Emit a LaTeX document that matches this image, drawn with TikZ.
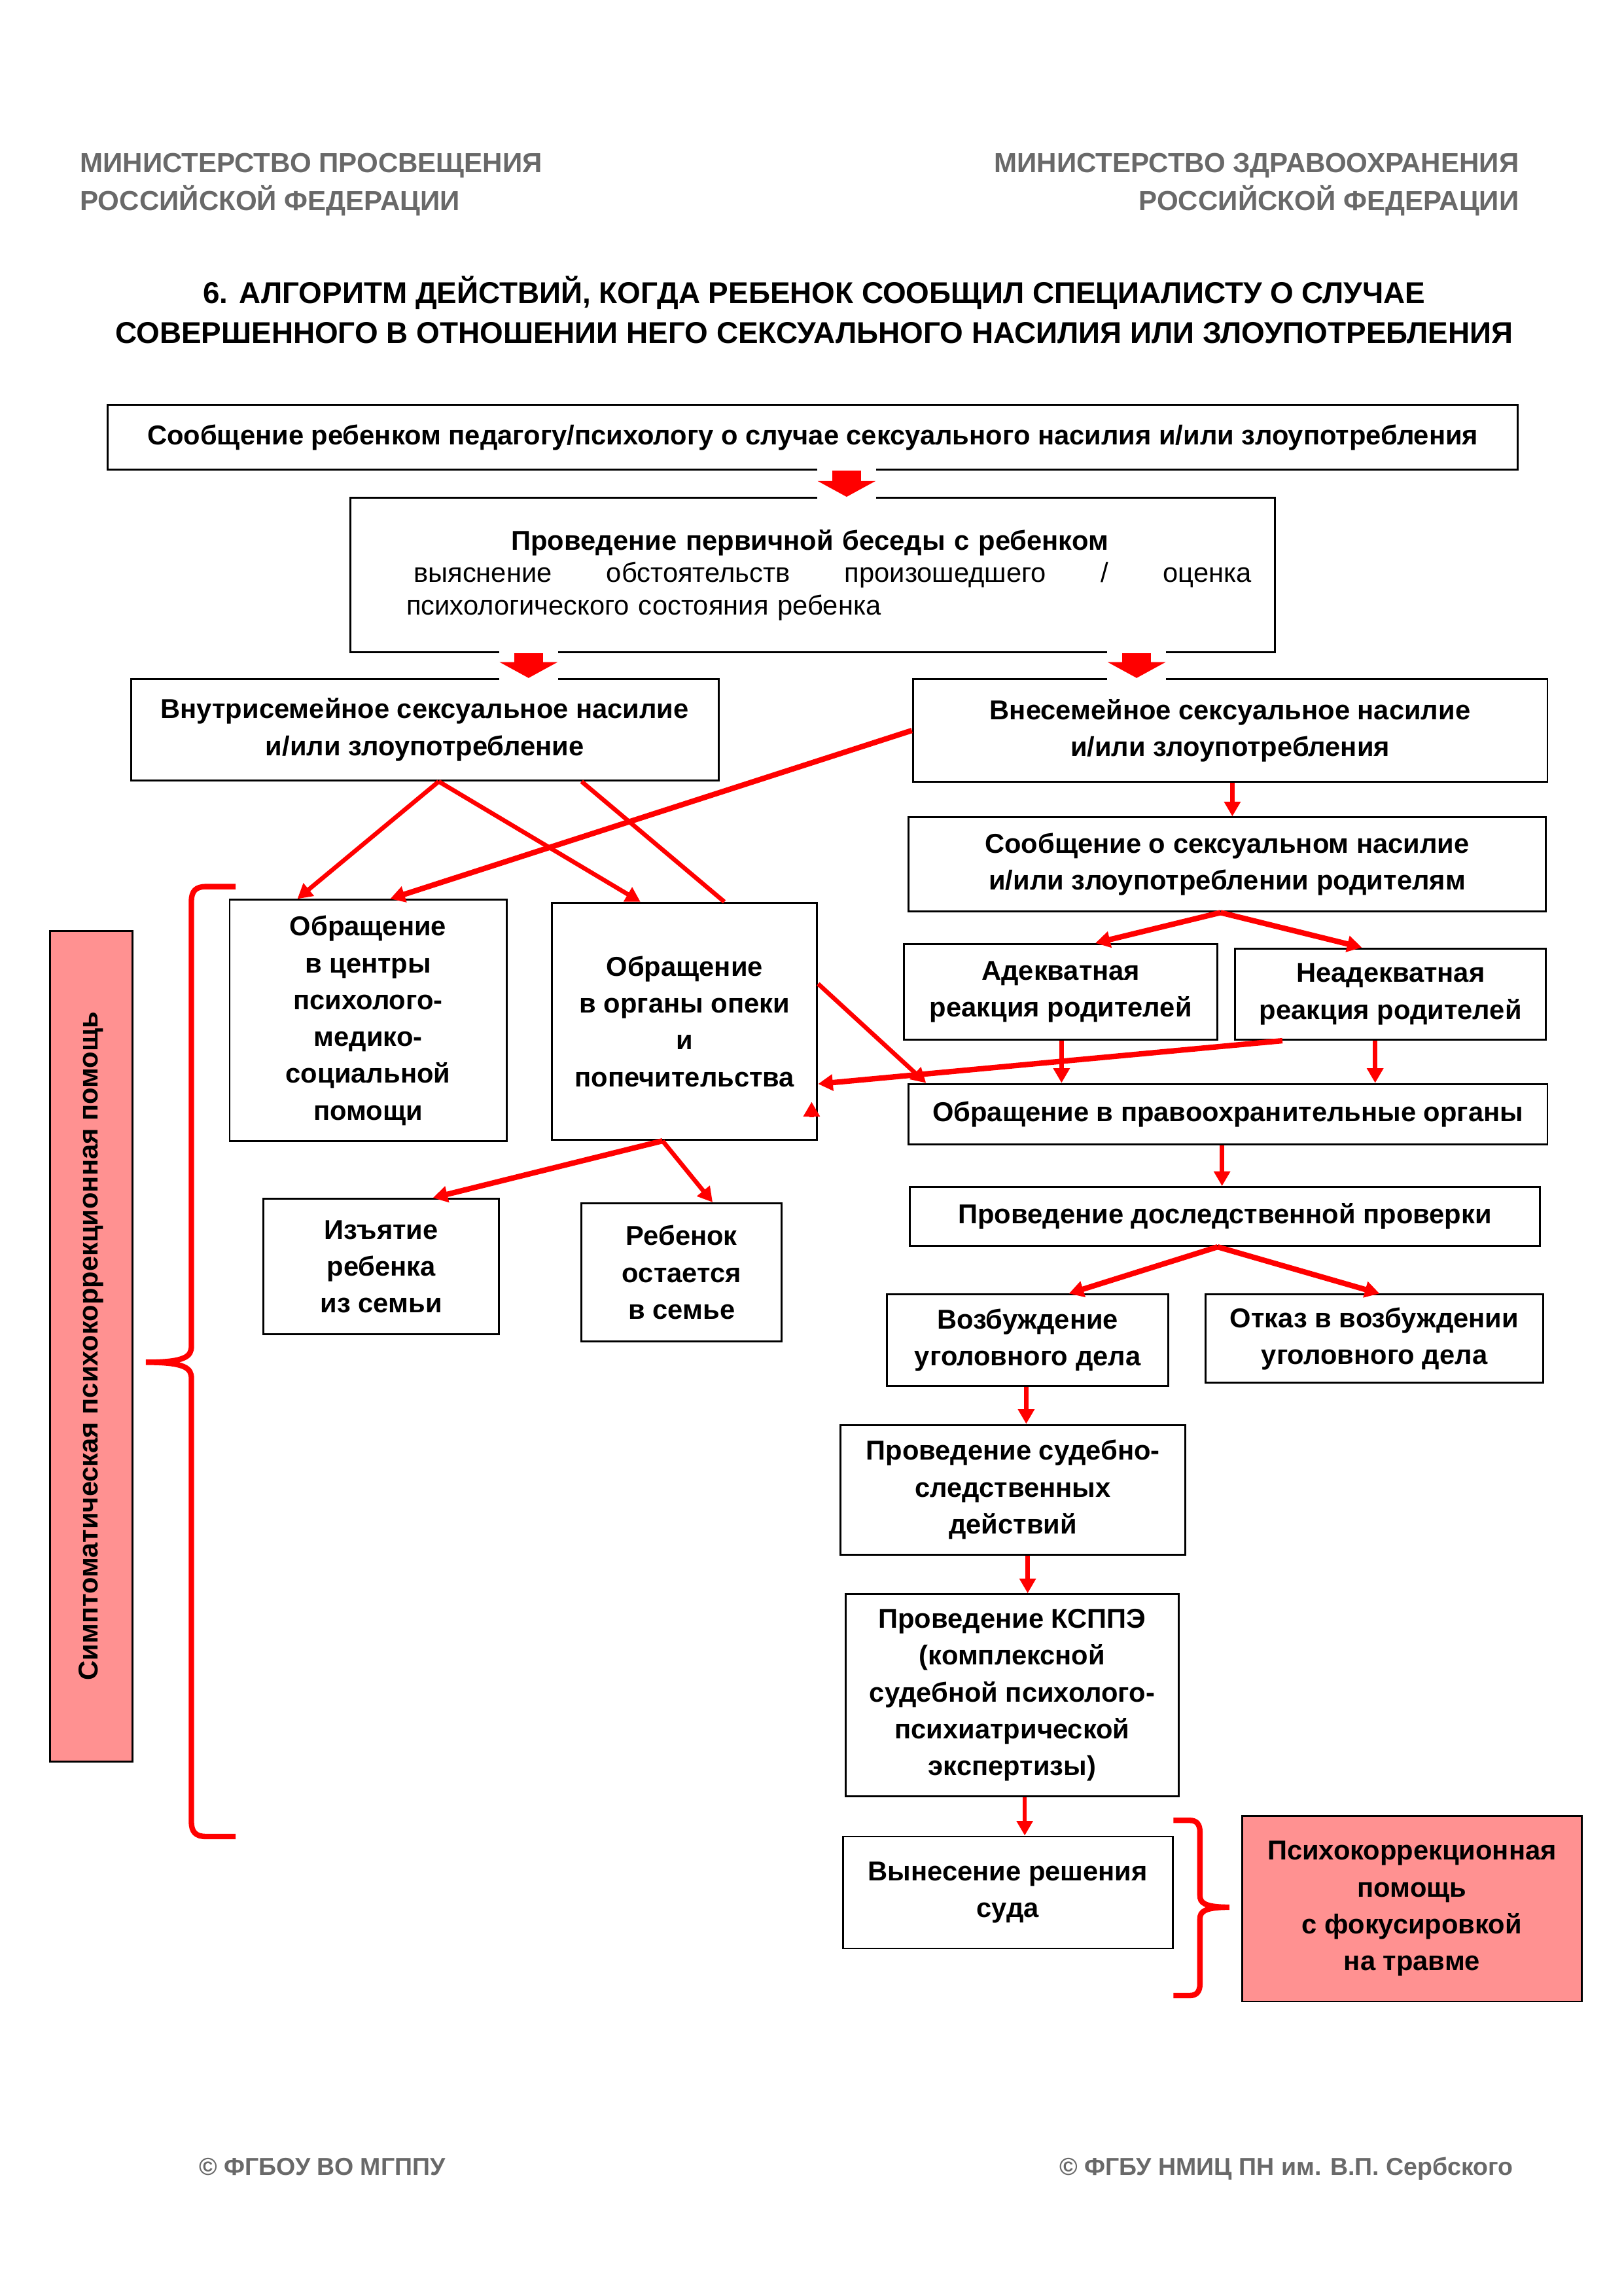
\documentclass[tikz,border=0pt]{standalone}
\usepackage{fontspec}
\setmainfont{Liberation Sans}
\usetikzlibrary{arrows.meta}
\definecolor{headgray}{RGB}{105,105,105}
\definecolor{pinkfill}{RGB}{255,145,145}
\newcommand{\px}{0.5397pt}
\tikzset{%
    box/.style={draw, line width=0.7pt, fill=white, align=center, inner sep=0pt,
        font=\bfseries\fontsize{10}{13.5}\selectfont},
    pinkbox/.style={box, fill=pinkfill},
    sz/.style 2 args={minimum width=#1*\px, minimum height=#2*\px},
    link/.style={draw=red, line width=1.6pt, -{Triangle[length=5.4pt,width=5.8pt]}},
    heavy/.style={link, line width=2pt},
    bare/.style={draw=red, line width=1.6pt},
    fat/.style={draw=red, line width=10.5pt, -{Triangle[length=5.8pt,width=21pt]}},
    mask/.style={fill=white},
    brace/.style={draw=red, line width=2pt},
    head/.style={text=headgray, inner sep=0pt, font=\bfseries\fontsize{10.1}{14}\selectfont},
    caption/.style={inner sep=0pt, font=\bfseries\fontsize{11}{14.6}\selectfont},
    foot/.style={text=headgray, inner sep=0pt, font=\bfseries\fontsize{9}{10}\selectfont}
}
\begin{document}
\begin{tikzpicture}[x=\px, y=-\px]
    \useasboundingbox (0,0) rectangle (1103,1559);
    \node[head, anchor=base west] (edu1) at (54,117) {МИНИСТЕРСТВО ПРОСВЕЩЕНИЯ};
    \node[head, anchor=base west] (edu2) at (54,143) {РОССИЙСКОЙ ФЕДЕРАЦИИ};
    \node[head, anchor=base east] (med1) at (1032,117) {МИНИСТЕРСТВО ЗДРАВООХРАНЕНИЯ};
    \node[head, anchor=base east] (med2) at (1032,143) {РОССИЙСКОЙ ФЕДЕРАЦИИ};
    \node[caption, anchor=base] (title1) at (553,206) {6. АЛГОРИТМ ДЕЙСТВИЙ, КОГДА РЕБЕНОК СООБЩИЛ СПЕЦИАЛИСТУ О СЛУЧАЕ};
    \node[caption, anchor=base] (title2) at (553,233) {СОВЕРШЕННОГО В ОТНОШЕНИИ НЕГО СЕКСУАЛЬНОГО НАСИЛИЯ ИЛИ ЗЛОУПОТРЕБЛЕНИЯ};
    \node[foot, anchor=base west] (footl) at (135,1477) {© ФГБОУ ВО МГППУ};
    \node[foot, anchor=base east] (footr) at (1028,1477) {© ФГБУ НМИЦ ПН им. В.П. Сербского};

    \node[box, sz={958}{44}] (msg) at (552,297) {Сообщение ребенком педагогу/психологу о случае сексуального насилия и/или злоупотребления};
    \node[box, sz={628}{105}] (talk) at (552,390.5) {};
    \node[inner sep=0pt, text width=574*\px, align=left, font=\fontsize{10}{11.9}\selectfont] (talktext) at ([xshift=11*\px]talk.center)
        {\makebox[\linewidth][c]{\hspace*{-14pt}\bfseries Проведение первичной беседы с ребенком}\\
         \hspace*{2.7pt}выяснение\hfill обстоятельств\hfill произошедшего\hfill /\hfill оценка\\
         психологического состояния ребенка};
    \node[box, sz={399}{69}] (intra) at (288.5,495.5) {Внутрисемейное сексуальное насилие\\и/или злоупотребление};
    \node[box, sz={431}{70}] (extra) at (835.5,496) {Внесемейное сексуальное насилие\\и/или злоупотребления};
    \node[box, sz={433}{64}] (parents) at (833.5,587) {Сообщение о сексуальном насилие\\и/или злоупотреблении родителям};
    \node[box, sz={188}{164}] (centres) at (250,693) {Обращение\\в центры\\психолого-\\медико-\\социальной\\помощи};
    \node[box, sz={180}{161}] (guard) at (465,693.5) {Обращение\\в органы опеки\\и\\попечительства};
    \node[box, sz={213}{65}] (adeq) at (720.5,673.5) {Адекватная\\реакция родителей};
    \node[box, sz={211}{62}] (inadeq) at (944.5,675) {Неадекватная\\реакция родителей};
    \node[box, sz={434}{41}] (police) at (834,756.5) {Обращение в правоохранительные органы};
    \node[box, sz={428}{40}] (check) at (832,826) {Проведение доследственной проверки};
    \node[box, sz={160}{92}] (removal) at (259,860) {Изъятие\\ребенка\\из семьи};
    \node[box, sz={136}{94}] (stays) at (463,864) {Ребенок\\остается\\в семье};
    \node[box, sz={191}{62}] (case) at (698,910) {Возбуждение\\уголовного дела};
    \node[box, sz={229}{60}] (refusal) at (933.5,909) {Отказ в возбуждении\\уголовного дела};
    \node[box, sz={234}{88}] (inquiry) at (688,1011.5) {Проведение судебно-\\следственных\\действий};
    \node[box, sz={226}{137}] (expert) at (687.5,1151) {Проведение КСППЭ\\(комплексной\\судебной психолого-\\психиатрической\\экспертизы)};
    \node[box, sz={224}{76}] (verdict) at (684.5,1285) {Вынесение решения\\суда};
    \node[pinkbox, sz={231}{126}] (trauma) at (959,1296) {Психокоррекционная\\помощь\\с фокусировкой\\на травме};
    \node[pinkbox, rotate=90, sz={564}{56}] (symptom) at (62,914) {Симптоматическая психокоррекционная помощь};

    \fill[mask] (555,317) rectangle (595,340);
    \fill[mask] (339,441) rectangle (379,463);
    \fill[mask] (752,441) rectangle (792,463);
    \draw[fat] (msg.south -| 575,0) -- (talk.north -| 575,0);
    \draw[fat] (talk.south -| 359,0) -- (intra.north -| 359,0);
    \draw[fat] (talk.south -| 772,0) -- (extra.north -| 772,0);

    \draw[link] (intra.south -| 298,0) -- (centres.north -| 202,0);
    \draw[link] (intra.south -| 298,0) -- (guard.north -| 435,0);
    \draw[bare] (intra.south -| 395,0) -- (guard.north -| 492,0);
    \draw[heavy] (extra.west) -- (centres.north -| 265,0);
    \draw[link] (extra.south -| 837,0) -- (parents.north -| 837,0);
    \draw[heavy] (parents.south -| 829,0) -- (adeq.north -| 744,0);
    \draw[heavy] (parents.south -| 829,0) -- (inadeq.north -| 925,0);
    \draw[link] (adeq.south -| 721,0) -- (police.north -| 721,0);
    \draw[link] (inadeq.south -| 934,0) -- (police.north -| 934,0);
    \draw[heavy] (inadeq.south -| 871,0) -- (guard.east |- 0,736);
    \draw[link] (guard.east |- 0,668) -- (police.north -| 629,0);
    \draw[link] ([xshift=-4.4*\px, yshift=16*\px]guard.south east) -- ([xshift=-4.4*\px, yshift=26.5*\px]guard.south east);
    \draw[heavy] (guard.south -| 450,0) -- (removal.north -| 294,0);
    \draw[link] (guard.south -| 450,0) -- (stays.north -| 484,0);
    \draw[link] (police.south -| 830,0) -- (check.north -| 830,0);
    \draw[heavy] (check.south -| 827,0) -- (case.north -| 726,0);
    \draw[heavy] (check.south -| 827,0) -- (refusal.north -| 937,0);
    \draw[link] (case.south -| 697,0) -- (inquiry.north -| 697,0);
    \draw[link] (inquiry.south -| 698,0) -- (expert.north -| 698,0);
    \draw[link] (expert.south -| 696,0) -- (verdict.north -| 696,0);

    \draw[brace] (160,602) -- (140,602) .. controls (133,602) and (130,605) .. (130,612)
        -- (130,914) .. controls (130,921) and (126,925) .. (99,925)
        .. controls (126,925) and (130,929) .. (130,936) -- (130,1237)
        .. controls (130,1244) and (133,1247) .. (140,1247) -- (160,1247);
    \draw[brace] (797,1236) -- (808,1236) .. controls (813,1236) and (815,1239) .. (815,1244)
        -- (815,1287) .. controls (815,1292) and (818,1295) .. (835,1295)
        .. controls (818,1295) and (815,1298) .. (815,1303) -- (815,1347)
        .. controls (815,1352) and (813,1355) .. (808,1355) -- (797,1355);
\end{tikzpicture}
\end{document}
